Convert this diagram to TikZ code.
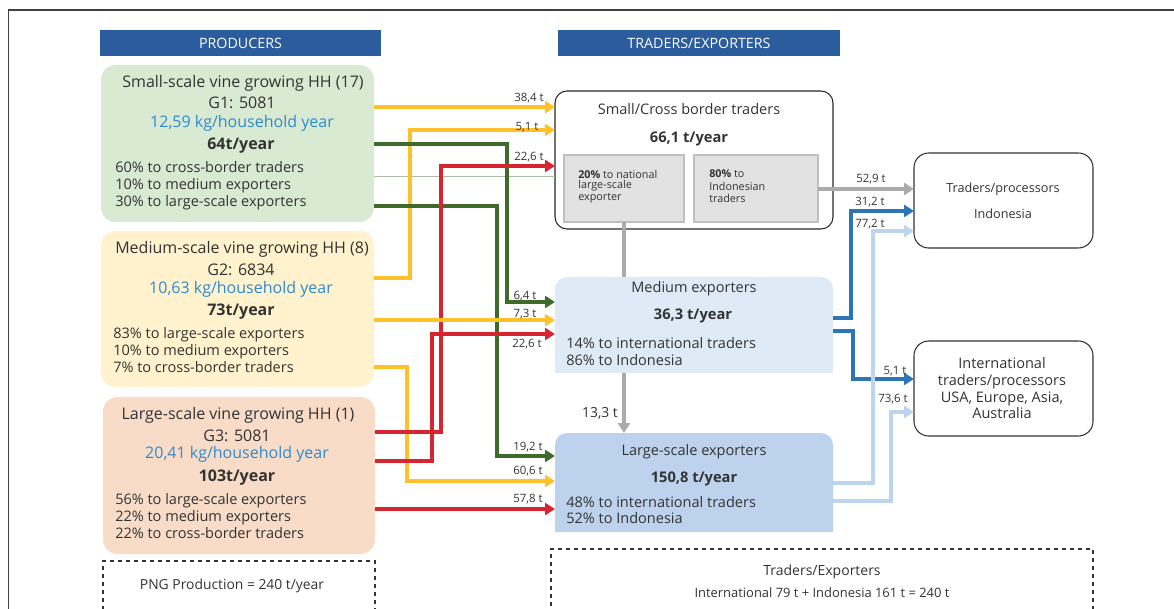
\documentclass[tikz,border=0pt]{standalone}
\usepackage{fontspec}
\setmainfont{Open Sans}
\usetikzlibrary{arrows.meta,fit}
\definecolor{hdr}{HTML}{2B5C9E}
\definecolor{gbox}{HTML}{D9EAD3}
\definecolor{ybox}{HTML}{FFF2CC}
\definecolor{obox}{HTML}{F8DCC8}
\definecolor{mebox}{HTML}{DEEBF6}
\definecolor{lebox}{HTML}{BDD3ED}
\definecolor{inner}{HTML}{E2E2E2}
\definecolor{innerb}{HTML}{BFBFBF}
\definecolor{cyel}{HTML}{FFC12A}
\definecolor{cgrn}{HTML}{3E6B2B}
\definecolor{cred}{HTML}{D62430}
\definecolor{cblu}{HTML}{2E75B6}
\definecolor{clbl}{HTML}{BDD4EE}
\definecolor{cgry}{HTML}{ABABAB}
\definecolor{kgb}{HTML}{2F8AD0}
\definecolor{tcol}{HTML}{333333}
\tikzset{
  area/.style={inner sep=0pt, outer sep=0pt},
  txt/.style={inner sep=0pt, text=tcol, yshift=-1.4pt, font=\fontsize{10.9}{12}\selectfont, text height=0.72em, text depth=0.2em},
  big/.style={txt, font=\fontsize{12}{13}\selectfont},
  bigb/.style={txt, font=\fontsize{12}{13}\selectfont\bfseries},
  midb/.style={txt, font=\fontsize{11}{13}\selectfont\bfseries},
  lbl/.style={inner sep=0pt, text=tcol, yshift=-0.8pt, font=\fontsize{8.6}{10}\selectfont},
  small/.style={inner sep=0pt, text=tcol, yshift=-0.8pt, font=\fontsize{8.1}{9}\selectfont},
  hdrtxt/.style={inner sep=0pt, text=white, font=\fontsize{10.7}{12}\selectfont},
  flow/.style={line width=2.4pt, line join=miter, -{Triangle[length=7.5pt,width=9pt]}},
  gline/.style={line width=2.4pt, cgry},
  endbox/.style={draw=black!80, line width=0.8pt, rounded corners=11pt, area},
}
\begin{document}
\begin{tikzpicture}[x=0.75pt,y=-0.75pt]
\useasboundingbox (0,0) rectangle (1174,609);
% frame
\draw[line width=1.1pt, black!75] (8.5,609) -- (8.5,10) -- (1174,10);
% headers
\node[area, fill=hdr, fit={(100,30) (381,56)}] (hp) {};
\node[hdrtxt] (hpt) at (hp.center) {PRODUCERS};
\node[area, fill=hdr, fit={(558,30) (840,56)}] (hx) {};
\node[hdrtxt] (hxt) at (hx.center) {TRADERS/EXPORTERS};
% producer boxes
\node[area, fill=gbox, rounded corners=11pt, fit={(101,65) (374,222)}] (ps) {};
\node[area, fill=ybox, rounded corners=11pt, fit={(101,231) (374,387)}] (pm) {};
\node[area, fill=obox, rounded corners=11pt, fit={(103,397) (375,554)}] (pl) {};
\node[area, draw=black!80, dashed, line width=0.8pt, fit={(103,561) (375,620)}] (png) {};
% small-scale texts
\node[big] (ps1) at (243,82) {Small-scale vine growing HH (17)};
\node[big] (ps2) at (242,103) {G1: 5081};
\node[big, text=kgb] (ps3) at (242,122) {12,59 kg/household year};
\node[bigb] (ps4) at (241,144) {64t/year};
\node[txt, anchor=west] (ps5) at (115,167) {60\% to cross-border traders};
\node[txt, anchor=west] (ps6) at (115,184) {10\% to medium exporters};
\node[txt, anchor=west] (ps7) at (115,201) {30\% to large-scale exporters};
% medium-scale texts
\node[big] (pm1) at (242,248) {Medium-scale vine growing HH (8)};
\node[big] (pm2) at (241,270) {G2: 6834};
\node[big, text=kgb] (pm3) at (241,288) {10,63 kg/household year};
\node[bigb] (pm4) at (241,310) {73t/year};
\node[txt, anchor=west] (pm5) at (113,333) {83\% to large-scale exporters};
\node[txt, anchor=west] (pm6) at (113,350) {10\% to medium exporters};
\node[txt, anchor=west] (pm7) at (113,367) {7\% to cross-border traders};
% large-scale texts
\node[big] (pl1) at (238,414) {Large-scale vine growing HH (1)};
\node[big] (pl2) at (237,436) {G3: 5081};
\node[big, text=kgb] (pl3) at (237,453) {20,41 kg/household year};
\node[bigb] (pl4) at (237,476) {103t/year};
\node[txt, anchor=west] (pl5) at (115,499) {56\% to large-scale exporters};
\node[txt, anchor=west] (pl6) at (115,516) {22\% to medium exporters};
\node[txt, anchor=west] (pl7) at (115,533) {22\% to cross-border traders};
\node[txt, font=\fontsize{10.4}{12}\selectfont] (pngt) at (232,584) {PNG Production = 240 t/year};
% traders / exporters
\node[area, draw=black!85, line width=0.8pt, rounded corners=9pt, fit={(555,91) (833,229)}] (cb) {};
\node[txt] (cb1) at (689,109) {Small/Cross border traders};
\node[midb] (cb2) at (689,137) {66,1 t/year};
\node[area, fill=inner, draw=innerb, line width=0.8pt, fit={(564,155) (684,222)}] (in1) {};
\node[area, fill=inner, draw=innerb, line width=0.8pt, fit={(694,155) (818,222)}] (in2) {};
\node[small, anchor=west] (in1a) at (578,173) {\textbf{20\%} to national};
\node[small, anchor=west] (in1b) at (578,185) {large-scale};
\node[small, anchor=west] (in1c) at (578,197) {exporter};
\node[small, anchor=west] (in2a) at (709,173) {\textbf{80\%} to};
\node[small, anchor=west] (in2b) at (709,185) {Indonesian};
\node[small, anchor=west] (in2c) at (709,197) {traders};
% medium exporters
\node[area, fit={(555,277) (833,373)}] (mx) {};
\fill[mebox] (mx.south west) [rounded corners=9pt] -- (mx.north west) -- (mx.north east) [sharp corners] -- (mx.south east) -- cycle;
\node[txt] (mx1) at (694,287) {Medium exporters};
\node[midb] (mx2) at (693,314) {36,3 t/year};
\node[txt, anchor=west] (mx3) at (566,343) {14\% to international traders};
\node[txt, anchor=west] (mx4) at (566,360) {86\% to Indonesia};
% large exporters
\node[area, fit={(555,433) (833,532)}] (lx) {};
\fill[lebox] (lx.south west) [rounded corners=9pt] -- (lx.north west) -- (lx.north east) [sharp corners] -- (lx.south east) -- cycle;
\node[txt] (lx1) at (694,450) {Large-scale exporters};
\node[midb] (lx2) at (694,477) {150,8 t/year};
\node[txt, anchor=west] (lx3) at (566,502) {48\% to international traders};
\node[txt, anchor=west] (lx4) at (566,518) {52\% to Indonesia};
% end boxes
\node[endbox, fit={(914,153) (1093,248)}] (tpi) {};
\node[txt, font=\fontsize{9.5}{11}\selectfont] (tpi1) at (1003,187) {Traders/processors};
\node[txt, font=\fontsize{9.5}{11}\selectfont] (tpi2) at (1003,213) {Indonesia};
\node[endbox, fit={(914,341) (1093,436)}] (int) {};
\node[txt] (int1) at (1002,363) {International};
\node[txt] (int2) at (1002,380) {traders/processors};
\node[txt] (int3) at (1002,397) {USA, Europe, Asia,};
\node[txt] (int4) at (1002,413) {Australia};
% bottom summary
\node[area, draw=black!80, dashed, line width=0.8pt, fit={(551,549) (1093,620)}] (sum) {};
\node[txt, font=\fontsize{10.5}{12}\selectfont] (sum1) at (822,570) {Traders/Exporters};
\node[txt, font=\fontsize{9.7}{12}\selectfont] (sum2) at (822,592) {International 79 t + Indonesia 161 t = 240 t};
% thin line
\draw[line width=0.6pt, black!20!gbox] (ps.east |- 0,176) -- (cb.west |- 0,176);
% producer flows
\draw[flow, cyel] (pm.east |- 0,278) -| (410,130) -- (cb.west |- 0,130);
\draw[flow, cyel] (pm.east |- 0,367) -| (407,481) -- (lx.west |- 0,481);
\draw[flow, cgrn] (ps.east |- 0,144) -| (507,302) -- (mx.west |- 0,302);
\draw[flow, cgrn] (ps.east |- 0,206) -| (497,456) -- (lx.west |- 0,456);
\draw[flow, cred] (pl.east |- 0,432) -| (441,166) -- (cb.west |- 0,166);
\draw[flow, cred] (pl.east |- 0,461) -| (432,334) -- (mx.west |- 0,334);
\draw[flow, cyel] (ps.east |- 0,107) -- (cb.west |- 0,107);
\draw[flow, cyel] (pm.east |- 0,320) -- (mx.west |- 0,320);
\draw[flow, cred] (pl.east |- 0,509) -- (lx.west |- 0,509);
% grey flows
\draw[gline] (in1.south) -- (in1.south |- mx.north);
\draw[gline, -{Triangle[length=7.5pt,width=9pt]}] (in1.south |- mx.south) -- (in1.south |- lx.north);
\draw[gline, -{Triangle[length=7.5pt,width=9pt]}] (in2.east |- 0,189) -- (tpi.west |- 0,189);
% exporters to end
\draw[flow, cblu] (mx.east |- 0,318) -| (851,211) -- (tpi.west |- 0,211);
\draw[flow, cblu] (mx.east |- 0,331) -| (853,379) -- (int.west |- 0,379);
\draw[flow, clbl] (lx.east |- 0,483) -| (873,231) -- (tpi.west |- 0,231);
\draw[flow, clbl] (lx.east |- 0,501) -| (891,412) -- (int.west |- 0,412);
% labels
\node[lbl] (l1) at (529,97) {38,4 t};
\node[lbl] (l2) at (527,126) {5,1 t};
\node[lbl] (l3) at (529,156) {22,6 t};
\node[lbl] (l4) at (525,295) {6,4 t};
\node[lbl] (l5) at (525,313) {7,3 t};
\node[lbl] (l6) at (527,343) {22,6 t};
\node[lbl] (l7) at (528,446) {19,2 t};
\node[lbl] (l8) at (528,470) {60,6 t};
\node[lbl] (l9) at (528,498) {57,8 t};
\node[lbl] (l10) at (871,178) {52,9 t};
\node[lbl] (l11) at (870,201) {31,2 t};
\node[lbl] (l12) at (870,223) {77,2 t};
\node[lbl] (l13) at (895,370) {5,1 t};
\node[lbl] (l14) at (893,398) {73,6 t};
\node[lbl, font=\fontsize{10.4}{12}\selectfont] (l15) at (600,412) {13,3 t};
\end{tikzpicture}
\end{document}
